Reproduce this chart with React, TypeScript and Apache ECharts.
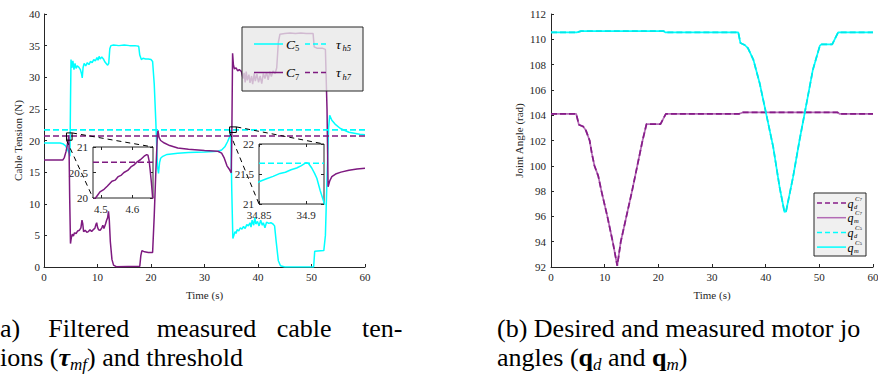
import React, { useEffect, useRef } from "react";
import * as echarts from "echarts";

const FONT = "Liberation Serif";
const INK = "#262626";
const CYAN = "#00FFFF";
const PURPLE = "#7E1A80";
const PURPLE_DESIRED = "#861C88";
const PURPLE_MEASURED = "#B36BB5";

// ---------- (a) cable tensions ----------
const c5Tension: [number, number][] = [
  [0, 19.6], [3.0, 19.6], [3.5, 19.5], [4.0, 19.2], [4.4, 18.6], [4.7, 18.0], [4.85, 17.5],
  [4.95, 26], [5.05, 32.8], [5.2, 31.5], [5.4, 32.6], [5.6, 31.2], [5.8, 32.2], [6.0, 31.4],
  [6.2, 31.8], [6.5, 31.6], [6.8, 31.2], [7.0, 30.6], [7.15, 29.9], [7.3, 31.5], [7.5, 32.2],
  [7.8, 31.8], [8.1, 32.3], [8.4, 32.0], [8.7, 32.5], [9.0, 32.3], [9.3, 32.8], [9.6, 32.6],
  [9.9, 33.1], [10.1, 32.7], [10.3, 33.3], [10.5, 32.9], [10.8, 33.2], [11.1, 32.9], [11.4, 32.4],
  [11.7, 32.1], [11.9, 31.9], [12.1, 32.2], [12.3, 34.5], [12.5, 35.0], [13, 35.1], [14, 35.0],
  [15, 35.1], [16, 35.0], [17, 35.0], [17.7, 34.9], [17.9, 33.5], [18.2, 32.8], [18.5, 33.0],
  [19, 32.9], [19.5, 32.9], [20.0, 32.8], [20.3, 32.5], [20.6, 29], [20.9, 23], [21.2, 16.0],
  [21.4, 14.8], [21.6, 16.5], [21.8, 17.2], [22.2, 17.5], [23, 17.8], [25, 18.0], [27, 18.1],
  [30, 18.2], [32.5, 18.3], [33.2, 18.5], [33.8, 19.0], [34.3, 19.8], [34.7, 20.6], [34.85, 21.37],
  [34.9, 21.69], [34.92, 21.0], [35.1, 12], [35.3, 4.5], [35.5, 5.0], [35.7, 5.6], [35.9, 5.3],
  [36.1, 5.9], [36.4, 5.7], [36.7, 6.2], [37.0, 6.0], [37.3, 6.4], [37.6, 6.1], [37.9, 6.7],
  [38.2, 6.5], [38.5, 7.0], [38.7, 6.3], [38.9, 7.4], [39.2, 6.6], [39.4, 7.8], [39.6, 6.8],
  [39.9, 7.2], [40.2, 6.5], [40.5, 7.4], [40.8, 6.6], [41.0, 7.0], [41.3, 6.2], [41.6, 7.1],
  [42.0, 6.9], [42.4, 7.0], [42.8, 6.8], [43.1, 6.5], [43.4, 4], [43.8, 1.0], [44.2, 0.2],
  [45, 0], [50.4, 0], [50.6, 2.5], [52.3, 2.6], [52.6, 5], [52.9, 14], [53.2, 22], [53.4, 24.0],
  [53.8, 23.2], [54.4, 22.6], [55.4, 21.9], [57, 21.3], [59, 21.0], [60, 20.9],
];

const c7Tension: [number, number][] = [
  [0, 16.9], [3.5, 16.9], [3.8, 17.3], [4.1, 18.2], [4.3, 19.0], [4.48, 20.0], [4.55, 20.3],
  [4.6, 20.5], [4.65, 20.85], [4.665, 20.0], [4.8, 11], [4.95, 3.7], [5.1, 4.6], [5.3, 5.2],
  [5.5, 4.9], [5.7, 5.4], [6.0, 5.3], [6.3, 5.7], [6.6, 5.8], [6.9, 6.2], [7.1, 7.4], [7.25, 6.8],
  [7.4, 5.6], [7.7, 5.8], [8.0, 5.5], [8.3, 5.6], [8.6, 5.9], [8.9, 5.6], [9.2, 5.9], [9.5, 6.1],
  [9.7, 6.7], [9.85, 7.0], [10.0, 6.3], [10.2, 5.9], [10.5, 5.8], [10.8, 6.2], [11.0, 6.6],
  [11.2, 6.1], [11.5, 6.8], [11.7, 7.4], [11.9, 7.8], [12.05, 8.8], [12.2, 7.5], [12.4, 4],
  [12.7, 1.2], [13.0, 0.3], [13.5, 0.05], [17.9, 0.1], [18.1, 1.8], [18.3, 2.6], [18.8, 2.4],
  [19.5, 2.3], [20.3, 2.3], [20.6, 8], [20.9, 15], [21.2, 21.0], [21.3, 21.6], [21.5, 20.5],
  [21.8, 20.0], [22.5, 19.6], [23.5, 19.2], [25, 18.8], [27, 18.6], [30, 18.4], [32.5, 18.3],
  [33.2, 18.0], [33.7, 17.2], [34.2, 16.0], [34.6, 15.5], [35.0, 14.9], [35.1, 20], [35.25, 33.8],
  [35.4, 32.0], [35.6, 31.3], [35.9, 31.5], [36.2, 31.0], [36.5, 31.2], [36.9, 30.9], [37.2, 29.8],
  [37.4, 30.7], [37.6, 29.2], [37.8, 30.9], [38.0, 29.5], [38.3, 30.4], [38.5, 29.1], [38.8, 30.2],
  [39.0, 28.9], [39.3, 30.6], [39.5, 29.4], [39.8, 30.5], [40.1, 29.2], [40.4, 30.2], [40.7, 29.0],
  [41.0, 30.6], [41.3, 29.8], [41.6, 30.8], [41.9, 29.6], [42.2, 30.9], [42.5, 30.1], [42.8, 31.0],
  [43.2, 30.6], [43.5, 31.5], [43.8, 35.5], [44.1, 36.8], [45, 36.9], [46, 37.0], [47, 36.9],
  [48, 37.0], [49, 36.9], [50.3, 36.9], [50.5, 34.8], [51, 34.6], [52, 34.6], [52.6, 34.4],
  [52.9, 25], [53.1, 12.7], [53.4, 13.6], [53.8, 14.3], [54.5, 14.7], [55.5, 15.0], [57, 15.3],
  [58.5, 15.5], [60, 15.6],
];

const tauH5 = 21.68;
const tauH7 = 20.7;

const c7Zoom: [number, number][] = [
  [4.46, 19.9], [4.483, 20.0], [4.49, 20.06], [4.497, 20.12], [4.51, 20.17], [4.52, 20.23],
  [4.535, 20.33], [4.545, 20.35], [4.555, 20.42], [4.565, 20.45], [4.573, 20.5], [4.585, 20.54],
  [4.595, 20.61], [4.605, 20.65], [4.615, 20.71], [4.625, 20.75], [4.637, 20.82], [4.645, 20.85],
  [4.649, 20.84], [4.653, 20.72], [4.656, 20.55], [4.66, 20.3], [4.664, 20.0], [4.667, 19.8],
];

const c5Zoom: [number, number][] = [
  [34.845, 21.33], [34.85, 21.37], [34.8546, 21.4], [34.858, 21.42], [34.865, 21.46],
  [34.8723, 21.51], [34.878, 21.53], [34.884, 21.57], [34.89, 21.6], [34.895, 21.64],
  [34.9, 21.69], [34.9024, 21.68], [34.906, 21.6], [34.909, 21.51], [34.9114, 21.43],
  [34.915, 21.22], [34.9191, 21.02], [34.922, 20.9],
];

const zoom1X = [4.475, 4.665];
const zoom1Y = [20, 21];
const zoom1Ticks = [4.5, 4.6];
const zoom2X = [34.85, 34.919];
const zoom2Y = [21, 22];
const zoom2Ticks = [34.85, 34.9];
// marker squares on main plot (data units)
const marker1 = { t: [4.2, 5.25], v: [20.05, 21.2] };
const marker2 = { t: [34.69, 35.95], v: [21.27, 22.15] };

// ---------- (b) joint angles ----------
const qC7: [number, number][] = [
  [0, 104.1], [4.7, 104.1], [5.2, 103.25], [6.0, 103.1], [6.5, 102.8], [7.2, 102.0], [7.6, 101.0],
  [8.1, 100.0], [8.8, 99.2], [9.4, 98.0], [10.5, 96.0], [11.5, 94.0], [12.35, 92.1], [13.0, 94.0],
  [15.1, 98.0], [17.06, 102.0], [17.8, 103.3], [20.4, 103.3], [21.4, 104.1], [35.0, 104.1],
  [35.7, 104.22], [53.4, 104.22], [53.8, 104.1], [60, 104.1],
];
const qC5: [number, number][] = [
  [0, 110.55], [4.8, 110.55], [5.6, 110.65], [21.0, 110.65], [21.3, 110.55], [34.9, 110.55],
  [35.3, 109.7], [36.1, 109.55], [36.7, 109.3], [37.7, 108.4], [38.9, 106.5], [40.1, 104.1],
  [41.4, 101.5], [42.6, 98.3], [43.5, 96.35], [43.8, 96.4], [45.1, 99.1], [46.3, 102.0],
  [47.6, 104.9], [48.8, 107.6], [50.1, 109.5], [50.4, 109.6], [52.4, 109.6], [53.5, 110.55],
  [60, 110.55],
];

const axisBase = (extra: any = {}) => ({
  type: "value",
  axisLine: { show: true, lineStyle: { color: INK, width: 1 } },
  axisTick: { show: true, inside: true, length: 3, lineStyle: { color: INK, width: 1 } },
  axisLabel: { color: INK, fontFamily: FONT, fontSize: 11, margin: 4 },
  splitLine: { show: false },
  nameTextStyle: { color: INK, fontFamily: FONT, fontSize: 11 },
  ...extra,
});

const line = (name: string, data: any, color: string, xi: number, yi: number, dash?: any, width = 1.5) => ({
  name,
  type: "line",
  xAxisIndex: xi,
  yAxisIndex: yi,
  data,
  showSymbol: false,
  symbol: "none",
  clip: true,
  lineStyle: { color, width, type: dash || "solid" },
  emphasis: { disabled: true },
});

export default function App() {
  const ref = useRef<HTMLDivElement>(null);
  useEffect(() => {
    if (!ref.current) return;
    const chart = echarts.init(ref.current, undefined, { renderer: "svg" });
    const lbl = (margin: number, extra: any = {}) => ({ color: INK, fontFamily: FONT, fontSize: 11, margin, ...extra });
    const option: any = {
      animation: false,
      backgroundColor: "#fff",
      textStyle: { fontFamily: FONT },
      grid: [
        { left: 44, top: 14, width: 321, height: 253, outerBoundsMode: "none" },
        { left: 551, top: 14, width: 322, height: 253, outerBoundsMode: "none" },
        { left: 93, top: 147, width: 60, height: 51, show: true, backgroundColor: "#fff", borderColor: INK, borderWidth: 1, outerBoundsMode: "none" },
        { left: 259, top: 144, width: 65, height: 60, show: true, backgroundColor: "#fff", borderColor: INK, borderWidth: 1, outerBoundsMode: "none" },
      ],
      xAxis: [
        axisBase({ gridIndex: 0, min: 0, max: 60, interval: 10, name: "Time (s)", nameLocation: "middle", nameGap: 22 }),
        axisBase({ gridIndex: 1, min: 0, max: 60, interval: 10, name: "Time (s)", nameLocation: "middle", nameGap: 22 }),
        axisBase({
          gridIndex: 2, min: zoom1X[0], max: zoom1X[1],
          axisLine: { show: false },
          axisTick: { show: true, inside: true, length: 3, customValues: zoom1Ticks, lineStyle: { color: INK } },
          axisLabel: lbl(5, { customValues: zoom1Ticks }),
        }),
        axisBase({
          gridIndex: 3, min: zoom2X[0], max: zoom2X[1],
          axisLine: { show: false },
          axisTick: { show: true, inside: true, length: 3, customValues: zoom2Ticks, lineStyle: { color: INK } },
          axisLabel: lbl(5, { customValues: zoom2Ticks, showMinLabel: true }),
        }),
        axisBase({
          gridIndex: 2, position: "top", min: zoom1X[0], max: zoom1X[1],
          axisLine: { show: false }, axisLabel: { show: false },
          axisTick: { show: true, inside: true, length: 3, customValues: zoom1Ticks, lineStyle: { color: INK } },
        }),
        axisBase({
          gridIndex: 3, position: "top", min: zoom2X[0], max: zoom2X[1],
          axisLine: { show: false }, axisLabel: { show: false },
          axisTick: { show: true, inside: true, length: 3, customValues: zoom2Ticks, lineStyle: { color: INK } },
        }),
      ],
      yAxis: [
        axisBase({ gridIndex: 0, min: 0, max: 40, interval: 5, name: "Cable Tension (N)", nameLocation: "middle", nameGap: 21 }),
        axisBase({ gridIndex: 1, min: 92, max: 112, interval: 2, name: "Joint Angle (rad)", nameLocation: "middle", nameGap: 27, axisLabel: lbl(5) }),
        axisBase({ gridIndex: 2, min: zoom1Y[0], max: zoom1Y[1], interval: 0.5, axisLine: { show: false }, axisLabel: lbl(5) }),
        axisBase({ gridIndex: 3, min: zoom2Y[0], max: zoom2Y[1], interval: 0.5, axisLine: { show: false }, axisLabel: lbl(5) }),
        axisBase({ gridIndex: 2, position: "right", min: zoom1Y[0], max: zoom1Y[1], interval: 0.5, axisLine: { show: false }, axisLabel: { show: false } }),
        axisBase({ gridIndex: 3, position: "right", min: zoom2Y[0], max: zoom2Y[1], interval: 0.5, axisLine: { show: false }, axisLabel: { show: false } }),
      ],
      series: [
        line("C5", c5Tension, CYAN, 0, 0),
        line("C7", c7Tension, PURPLE, 0, 0),
        line("tau_h5", [[0, tauH5], [60, tauH5]], CYAN, 0, 0, [6, 3], 1.6),
        line("tau_h7", [[0, tauH7], [60, tauH7]], PURPLE, 0, 0, [6, 3], 1.6),
        line("C7 zoom", c7Zoom, PURPLE, 2, 2),
        line("tau_h7 zoom", [[zoom1X[0], tauH7], [zoom1X[1], tauH7]], PURPLE, 2, 2, [6, 3], 1.6),
        line("C5 zoom", c5Zoom, CYAN, 3, 3),
        line("tau_h5 zoom", [[zoom2X[0], tauH5], [zoom2X[1], tauH5]], CYAN, 3, 3, [6, 3], 1.6),
        line("qm C7", qC7, PURPLE_MEASURED, 1, 1, "solid", 1.7),
        line("qd C7", qC7, PURPLE_DESIRED, 1, 1, [6, 3], 1.7),
        line("qm C5", qC5, CYAN, 1, 1, "solid", 1.7),
        line("qd C5", qC5, "#00E8E8", 1, 1, [6, 3], 1.7),
      ],
    };
    chart.setOption(option);

    const px = (xi: number, yi: number, pt: number[]) =>
      chart.convertToPixel({ xAxisIndex: xi, yAxisIndex: yi } as any, pt) as number[];

    const g: any[] = [];
    const dash = { stroke: "#000", lineWidth: 1, lineDash: [5, 4] };
    const addZoom = (m: any, xi: number, zx: number[], zy: number[]) => {
      const tr = px(0, 0, [m.t[1], m.v[1]]);
      const bl = px(0, 0, [m.t[0], m.v[0]]);
      g.push({ type: "rect", z: 20, shape: { x: bl[0], y: tr[1], width: tr[0] - bl[0], height: bl[1] - tr[1] }, style: { fill: "none", stroke: "#000", lineWidth: 1 } });
      const itr = px(xi, xi, [zx[1], zy[1]]);
      const ibl = px(xi, xi, [zx[0], zy[0]]);
      g.push({ type: "line", z: 20, shape: { x1: tr[0], y1: tr[1], x2: itr[0], y2: itr[1] }, style: dash });
      g.push({ type: "line", z: 20, shape: { x1: bl[0], y1: bl[1], x2: ibl[0], y2: ibl[1] }, style: dash });
    };
    addZoom(marker1, 2, zoom1X, zoom1Y);
    addZoom(marker2, 3, zoom2X, zoom2Y);

    const txt = (x: number, y: number, text: string, size: number, extra: any = {}) => ({
      type: "text", z: 31, x, y,
      style: { text, fontSize: size, fontFamily: FONT, fill: "#000", verticalAlign: "middle", align: "left", ...extra },
    });

    // legend (a)
    g.push({ type: "rect", z: 30, shape: { x: 242, y: 27, width: 121, height: 64 }, style: { fill: "rgba(232,232,232,0.78)", stroke: INK, lineWidth: 1 } });
    const legA = [
      { y: 44, color: CYAN, c: "5", t: "h5" },
      { y: 72.5, color: PURPLE, c: "7", t: "h7" },
    ];
    legA.forEach((r) => {
      g.push({ type: "line", z: 31, shape: { x1: 254, y1: r.y, x2: 283, y2: r.y }, style: { stroke: r.color, lineWidth: 1.5 } });
      g.push(txt(286, r.y, "C", 13.5, { fontStyle: "italic" }));
      g.push(txt(295, r.y + 4, r.c, 8.5));
      g.push({ type: "line", z: 31, shape: { x1: 305, y1: r.y, x2: 329, y2: r.y }, style: { stroke: r.color, lineWidth: 1.5, lineDash: [5, 3] } });
      g.push(txt(336, r.y, "τ", 13.5, { fontStyle: "italic" }));
      g.push(txt(342.5, r.y + 4, r.t, 8.5, { fontStyle: "italic" }));
    });

    // legend (b)
    g.push({ type: "rect", z: 30, shape: { x: 814, y: 193, width: 52, height: 63 }, style: { fill: "#f0f0f0", stroke: INK, lineWidth: 1 } });
    const legB = [
      { y: 203, color: PURPLE_DESIRED, dash: true, sub: "d", sup: "7" },
      { y: 217.7, color: PURPLE_MEASURED, dash: false, sub: "m", sup: "7" },
      { y: 232.4, color: CYAN, dash: true, sub: "d", sup: "5" },
      { y: 247.1, color: CYAN, dash: false, sub: "m", sup: "5" },
    ];
    legB.forEach((r) => {
      g.push({ type: "line", z: 31, shape: { x1: 817, y1: r.y, x2: 846, y2: r.y }, style: { stroke: r.color, lineWidth: 1.5, lineDash: r.dash ? [5, 3] : null } });
      g.push(txt(847.5, r.y + 0.5, "q", 12, { fontStyle: "italic" }));
      g.push(txt(854, r.y + 3, r.sub, 6.5, { fontStyle: "italic" }));
      g.push(txt(855, r.y - 5, "C", 6.5, { fontStyle: "italic" }));
      g.push(txt(859.5, r.y - 3.8, r.sup, 5));
    });

    // captions (cropped at the image edges as in the reference)
    const cap = 26;
    const rich = {
      n: { fontSize: cap, fontFamily: FONT, color: "#000", verticalAlign: "top", lineHeight: 26 },
      b: { fontSize: cap, fontFamily: FONT, color: "#000", fontWeight: "bold", verticalAlign: "top", lineHeight: 26 },
      bi: { fontSize: cap, fontFamily: FONT, color: "#000", fontWeight: "bold", fontStyle: "italic", verticalAlign: "top", lineHeight: 26 },
      s: { fontSize: 17, fontFamily: FONT, color: "#000", fontStyle: "italic", verticalAlign: "bottom", lineHeight: 28.5 },
    };
    [["a)", 0], ["Filtered", 48.3], ["measured", 156.7], ["cable", 276.7], ["ten-", 362]].forEach(([w, x]) =>
      g.push(txt(x as number, 328.3, w as string, cap))
    );
    g.push({ type: "text", z: 31, x: 0, y: 359, style: { text: "{n|ions (}{bi|τ}{s|mf}{n|) and threshold}", rich, verticalAlign: "middle", align: "left" } });
    g.push(txt(497, 328.3, "(b) Desired and measured motor jo", cap));
    g.push({ type: "text", z: 31, x: 497, y: 359, style: { text: "{n|angles (}{b|q}{s|d}{n| and }{b|q}{s|m}{n|)}", rich, verticalAlign: "middle", align: "left" } });

    chart.setOption({ graphic: g });
    return () => chart.dispose();
  }, []);
  return <div ref={ref} style={{ position: "fixed", left: 0, top: 0, width: 878, height: 376, background: "#fff" }} />;
}
